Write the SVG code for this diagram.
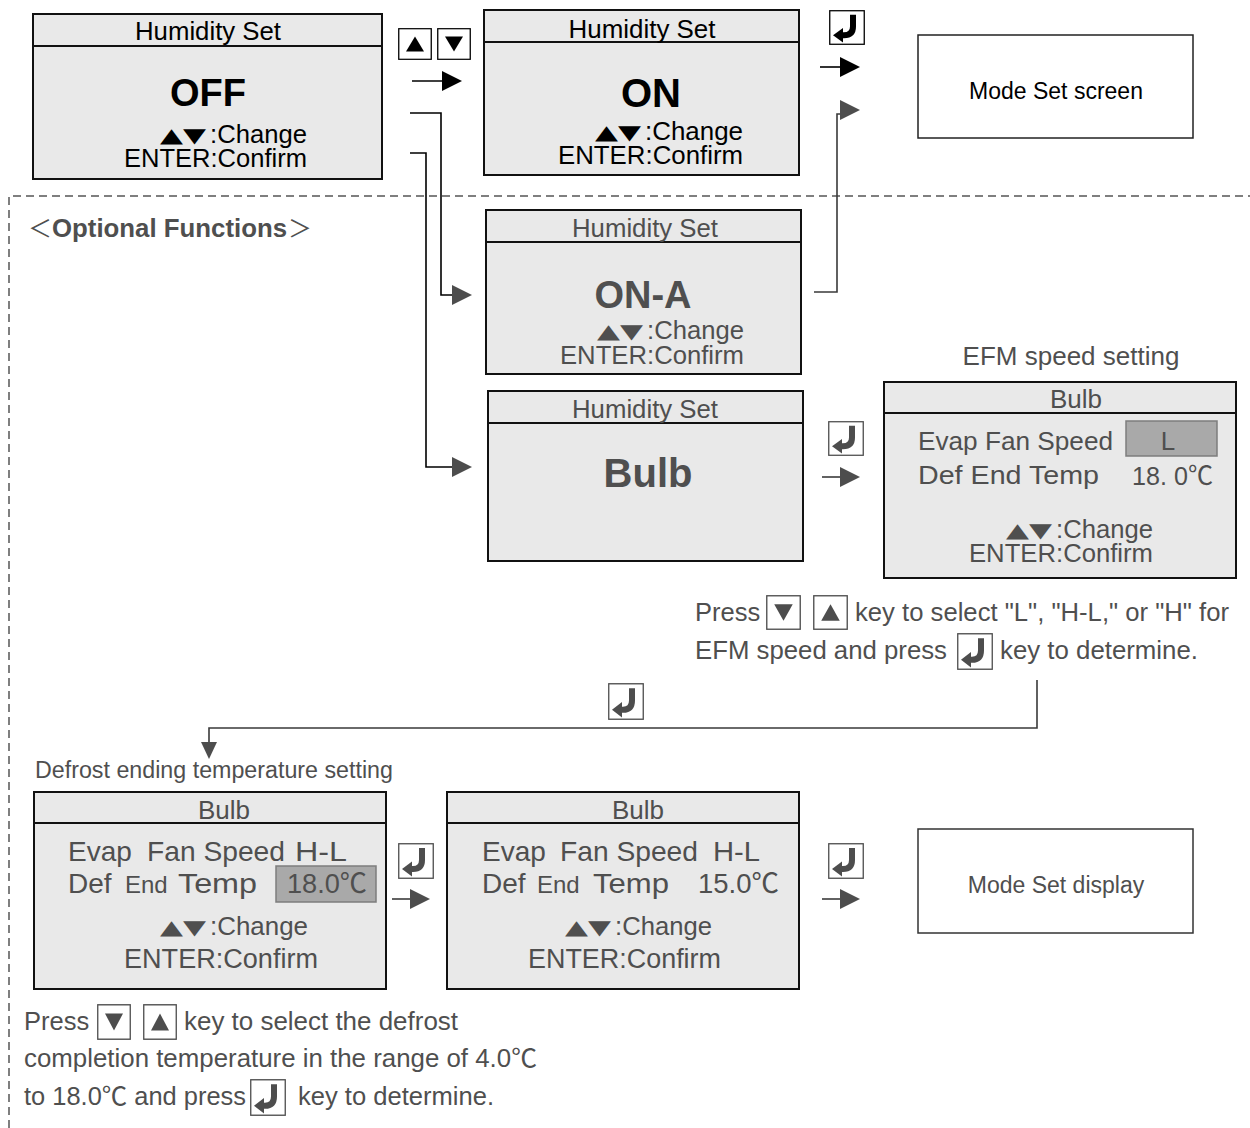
<svg xmlns="http://www.w3.org/2000/svg" width="1250" height="1128" viewBox="0 0 1250 1128">
<defs>
<style>
text{font-family:"Liberation Sans","Noto Sans CJK JP",sans-serif;font-size:26px;fill:#4f4f4f}
.blk{fill:#000}
.bd{font-weight:bold}
.m{text-anchor:middle}
.e{text-anchor:end}
.tri{font-family:"DejaVu Sans",sans-serif;font-size:20px}
.box{fill:#e9e9e9;stroke:#111;stroke-width:2}
.hd{stroke:#111;stroke-width:2;fill:none}
.wbox{fill:#fff;stroke:#333;stroke-width:1.5}
.ln{fill:none;stroke:#3a3a3a;stroke-width:1.6}
.lnk{fill:none;stroke:#000;stroke-width:1.6}
.hl{fill:#a9a9a9;stroke:#7d7d7d;stroke-width:1.5}
.ah{fill:#4d4d4d}
.ahk{fill:#000}
.dash{fill:none;stroke:#555;stroke-width:1.5;stroke-dasharray:8 5}
.p{font-size:25.5px}
</style>
<symbol id="kEnt" viewBox="0 0 36 36" preserveAspectRatio="none">
<rect x="0.75" y="0.75" width="34.5" height="34.5" fill="#fff" stroke="currentColor" stroke-width="1.3"/>
<path d="M24 5 V17 Q24 26 15 26 H12" fill="none" stroke="currentColor" stroke-width="6"/>
<polygon points="4,26 14,18.5 14,33.5" fill="currentColor"/>
</symbol>
<symbol id="kUp" viewBox="0 0 34 34" preserveAspectRatio="none">
<rect x="0.75" y="0.75" width="32.5" height="32.5" fill="#fff" stroke="currentColor" stroke-width="1.3"/>
<polygon points="17,9 26,25 8,25" fill="currentColor"/>
</symbol>
<symbol id="kDn" viewBox="0 0 34 34" preserveAspectRatio="none">
<rect x="0.75" y="0.75" width="32.5" height="32.5" fill="#fff" stroke="currentColor" stroke-width="1.3"/>
<polygon points="8,9 26,9 17,25" fill="currentColor"/>
</symbol>
</defs>

<rect width="1250" height="1128" fill="#fff"/>

<g id="optional-frame">
<path class="dash" d="M9 1128 V196 H1250"/>
<text x="28" y="237" style="font-family:'Noto Sans CJK JP',sans-serif;font-size:24px">＜</text>
<text class="bd" x="52" y="237" textLength="235" lengthAdjust="spacingAndGlyphs">Optional Functions</text>
<text x="288" y="237" style="font-family:'Noto Sans CJK JP',sans-serif;font-size:24px">＞</text>
</g>

<g id="node-off">
<rect class="box" x="33" y="14" width="349" height="165"/>
<line class="hd" x1="33" y1="46" x2="382" y2="46"/>
<text class="blk m" x="208" y="40" textLength="146" lengthAdjust="spacingAndGlyphs">Humidity Set</text>
<text class="blk bd m" x="208" y="106" style="font-size:38px">OFF</text>
<text class="blk tri" x="160" y="142" textLength="46" lengthAdjust="spacingAndGlyphs">▲▼</text>
<text class="blk" x="210" y="143" textLength="97" lengthAdjust="spacingAndGlyphs">:Change</text>
<text class="blk" x="124" y="167" textLength="183" lengthAdjust="spacingAndGlyphs">ENTER:Confirm</text>
</g>

<g id="keys-updown">
<use href="#kUp" x="398" y="28" width="34" height="32" style="color:#000"/>
<use href="#kDn" x="437" y="28" width="34" height="32" style="color:#000"/>
</g>

<g id="node-on">
<rect class="box" x="484" y="10" width="315" height="165"/>
<line class="hd" x1="484" y1="42" x2="799" y2="42"/>
<text class="blk m" x="642" y="38" textLength="147" lengthAdjust="spacingAndGlyphs">Humidity Set</text>
<text class="blk bd m" x="651" y="107" style="font-size:40px">ON</text>
<text class="blk tri" x="595" y="139" textLength="46" lengthAdjust="spacingAndGlyphs">▲▼</text>
<text class="blk" x="645" y="140" textLength="98" lengthAdjust="spacingAndGlyphs">:Change</text>
<text class="blk" x="558" y="164" textLength="185" lengthAdjust="spacingAndGlyphs">ENTER:Confirm</text>
</g>

<g id="key-enter-1">
<use href="#kEnt" x="829" y="10" width="36" height="35" style="color:#000"/>
</g>

<g id="node-mode-screen">
<rect class="wbox" x="918" y="35" width="275" height="103" style="stroke:#222"/>
<text class="blk m" x="1056" y="99" style="font-size:23px">Mode Set screen</text>
</g>

<g id="node-on-a">
<rect class="box" x="486" y="210" width="315" height="164"/>
<line class="hd" x1="486" y1="242" x2="801" y2="242"/>
<text class="m" x="645" y="237" textLength="146" lengthAdjust="spacingAndGlyphs">Humidity Set</text>
<text class="bd m" x="643" y="308" style="font-size:38px">ON-A</text>
<text class="tri" x="597" y="338" textLength="46" lengthAdjust="spacingAndGlyphs">▲▼</text>
<text x="647" y="339" textLength="97" lengthAdjust="spacingAndGlyphs">:Change</text>
<text x="560" y="364" textLength="184" lengthAdjust="spacingAndGlyphs">ENTER:Confirm</text>
</g>

<g id="node-bulb">
<rect class="box" x="488" y="391" width="315" height="170"/>
<line class="hd" x1="488" y1="423" x2="803" y2="423"/>
<text class="m" x="645" y="418" textLength="146" lengthAdjust="spacingAndGlyphs">Humidity Set</text>
<text class="bd m" x="648" y="487" style="font-size:40px">Bulb</text>
</g>

<g id="key-enter-2">
<use href="#kEnt" x="828" y="421" width="36" height="35" style="color:#4d4d4d"/>
</g>

<g id="node-efm">
<text class="m" x="1071" y="365">EFM speed setting</text>
<rect class="box" x="884" y="382" width="352" height="196"/>
<line class="hd" x1="884" y1="413" x2="1236" y2="413"/>
<text class="m" x="1076" y="408">Bulb</text>
<text x="918" y="450" textLength="195" lengthAdjust="spacingAndGlyphs">Evap Fan Speed</text>
<rect class="hl" x="1126" y="421" width="91" height="35"/>
<text class="m" x="1168" y="450">L</text>
<text x="918" y="484" textLength="181" lengthAdjust="spacingAndGlyphs">Def End Temp</text>
<text x="1132" y="485" textLength="81" lengthAdjust="spacingAndGlyphs">18. 0℃</text>
<text class="tri" x="1006" y="537" textLength="46" lengthAdjust="spacingAndGlyphs">▲▼</text>
<text x="1056" y="538" textLength="97" lengthAdjust="spacingAndGlyphs">:Change</text>
<text x="969" y="562" textLength="184" lengthAdjust="spacingAndGlyphs">ENTER:Confirm</text>
</g>

<g id="note-efm">
<text class="p" x="695" y="621">Press</text>
<use href="#kDn" x="766" y="595" width="35" height="35" style="color:#4d4d4d"/>
<use href="#kUp" x="813" y="595" width="35" height="35" style="color:#4d4d4d"/>
<text class="p" x="855" y="621" textLength="374" lengthAdjust="spacingAndGlyphs">key to select "L", "H-L," or "H" for</text>
<text class="p" x="695" y="659" textLength="252" lengthAdjust="spacingAndGlyphs">EFM speed and press</text>
<use href="#kEnt" x="957" y="633" width="36" height="37" style="color:#4d4d4d"/>
<text class="p" x="1000" y="659" textLength="198" lengthAdjust="spacingAndGlyphs">key to determine.</text>
</g>

<g id="key-enter-3">
<use href="#kEnt" x="608" y="683" width="36" height="37" style="color:#4d4d4d"/>
</g>

<g id="node-defrost-1">
<text x="35" y="778" style="font-size:23px" textLength="358" lengthAdjust="spacingAndGlyphs">Defrost ending temperature setting</text>
<rect class="box" x="34" y="792" width="352" height="197"/>
<line class="hd" x1="34" y1="823" x2="386" y2="823"/>
<text class="m" x="224" y="819">Bulb</text>
<text x="68" y="861" style="font-size:28px">Evap</text>
<text x="147" y="861" style="font-size:28px" textLength="138" lengthAdjust="spacingAndGlyphs">Fan Speed</text>
<text x="295" y="861" style="font-size:28px" textLength="52" lengthAdjust="spacingAndGlyphs">H-L</text>
<text x="68" y="893" style="font-size:28px">Def</text>
<text x="125" y="893" style="font-size:24px">End</text>
<text x="178" y="893" style="font-size:28px" textLength="79" lengthAdjust="spacingAndGlyphs">Temp</text>
<rect class="hl" x="276" y="866" width="100" height="36"/>
<text x="287" y="893" style="font-size:27px" textLength="80" lengthAdjust="spacingAndGlyphs">18.0℃</text>
<text class="tri" x="160" y="934" textLength="46" lengthAdjust="spacingAndGlyphs">▲▼</text>
<text x="210" y="935" textLength="98" lengthAdjust="spacingAndGlyphs">:Change</text>
<text x="124" y="968" style="font-size:27px" textLength="194" lengthAdjust="spacingAndGlyphs">ENTER:Confirm</text>
</g>

<g id="key-enter-4">
<use href="#kEnt" x="398" y="843" width="36" height="36" style="color:#4d4d4d"/>
</g>

<g id="node-defrost-2">
<rect class="box" x="447" y="792" width="352" height="197"/>
<line class="hd" x1="447" y1="823" x2="799" y2="823"/>
<text class="m" x="638" y="819">Bulb</text>
<text x="482" y="861" style="font-size:28px">Evap</text>
<text x="560" y="861" style="font-size:28px" textLength="138" lengthAdjust="spacingAndGlyphs">Fan Speed</text>
<text x="713" y="861" style="font-size:28px" textLength="47" lengthAdjust="spacingAndGlyphs">H-L</text>
<text x="482" y="893" style="font-size:28px">Def</text>
<text x="537" y="893" style="font-size:24px">End</text>
<text x="593" y="893" style="font-size:28px" textLength="76" lengthAdjust="spacingAndGlyphs">Temp</text>
<text x="698" y="893" style="font-size:27px" textLength="81" lengthAdjust="spacingAndGlyphs">15.0℃</text>
<text class="tri" x="565" y="934" textLength="46" lengthAdjust="spacingAndGlyphs">▲▼</text>
<text x="615" y="935" textLength="97" lengthAdjust="spacingAndGlyphs">:Change</text>
<text x="528" y="968" style="font-size:27px" textLength="193" lengthAdjust="spacingAndGlyphs">ENTER:Confirm</text>
</g>

<g id="key-enter-5">
<use href="#kEnt" x="828" y="843" width="36" height="36" style="color:#4d4d4d"/>
</g>

<g id="node-mode-display">
<rect class="wbox" x="918" y="829" width="275" height="104"/>
<text class="m" x="1056" y="893" style="font-size:23px">Mode Set display</text>
</g>

<g id="note-defrost">
<text class="p" x="24" y="1030">Press</text>
<use href="#kDn" x="97" y="1004" width="34" height="36" style="color:#4d4d4d"/>
<use href="#kUp" x="143" y="1004" width="34" height="36" style="color:#4d4d4d"/>
<text class="p" x="184" y="1030" textLength="274" lengthAdjust="spacingAndGlyphs">key to select the defrost</text>
<text class="p" x="24" y="1067" textLength="513" lengthAdjust="spacingAndGlyphs">completion temperature in the range of 4.0℃</text>
<text class="p" x="24" y="1105" textLength="222" lengthAdjust="spacingAndGlyphs">to 18.0℃ and press</text>
<use href="#kEnt" x="250" y="1079" width="36" height="37" style="color:#4d4d4d"/>
<text class="p" x="298" y="1105" textLength="196" lengthAdjust="spacingAndGlyphs">key to determine.</text>
</g>

<g id="connectors">
<line class="lnk" x1="412" y1="81" x2="445" y2="81"/>
<polygon class="ahk" points="442,71 462,81 442,91"/>
<path class="lnk" d="M410 113 H441 V295 H455"/>
<polygon class="ah" points="452,285 472,295 452,305"/>
<path class="lnk" d="M410 153 H426 V467 H455"/>
<polygon class="ah" points="452,457 472,467 452,477"/>
<line class="lnk" x1="820" y1="67" x2="843" y2="67"/>
<polygon class="ahk" points="840,57 860,67 840,77"/>
<path class="ln" d="M814 292 H837 V114 H843"/>
<polygon class="ah" points="840,100 860,110 840,120"/>
<line class="ln" x1="822" y1="477" x2="843" y2="477"/>
<polygon class="ah" points="840,467 860,477 840,487"/>
<path class="ln" d="M1037 680 V728 H209 V745"/>
<polygon class="ah" points="201,742 217,742 209,759"/>
<line class="ln" x1="392" y1="899" x2="413" y2="899"/>
<polygon class="ah" points="410,889 430,899 410,909"/>
<line class="ln" x1="822" y1="899" x2="843" y2="899"/>
<polygon class="ah" points="840,889 860,899 840,909"/>
</g>
</svg>
